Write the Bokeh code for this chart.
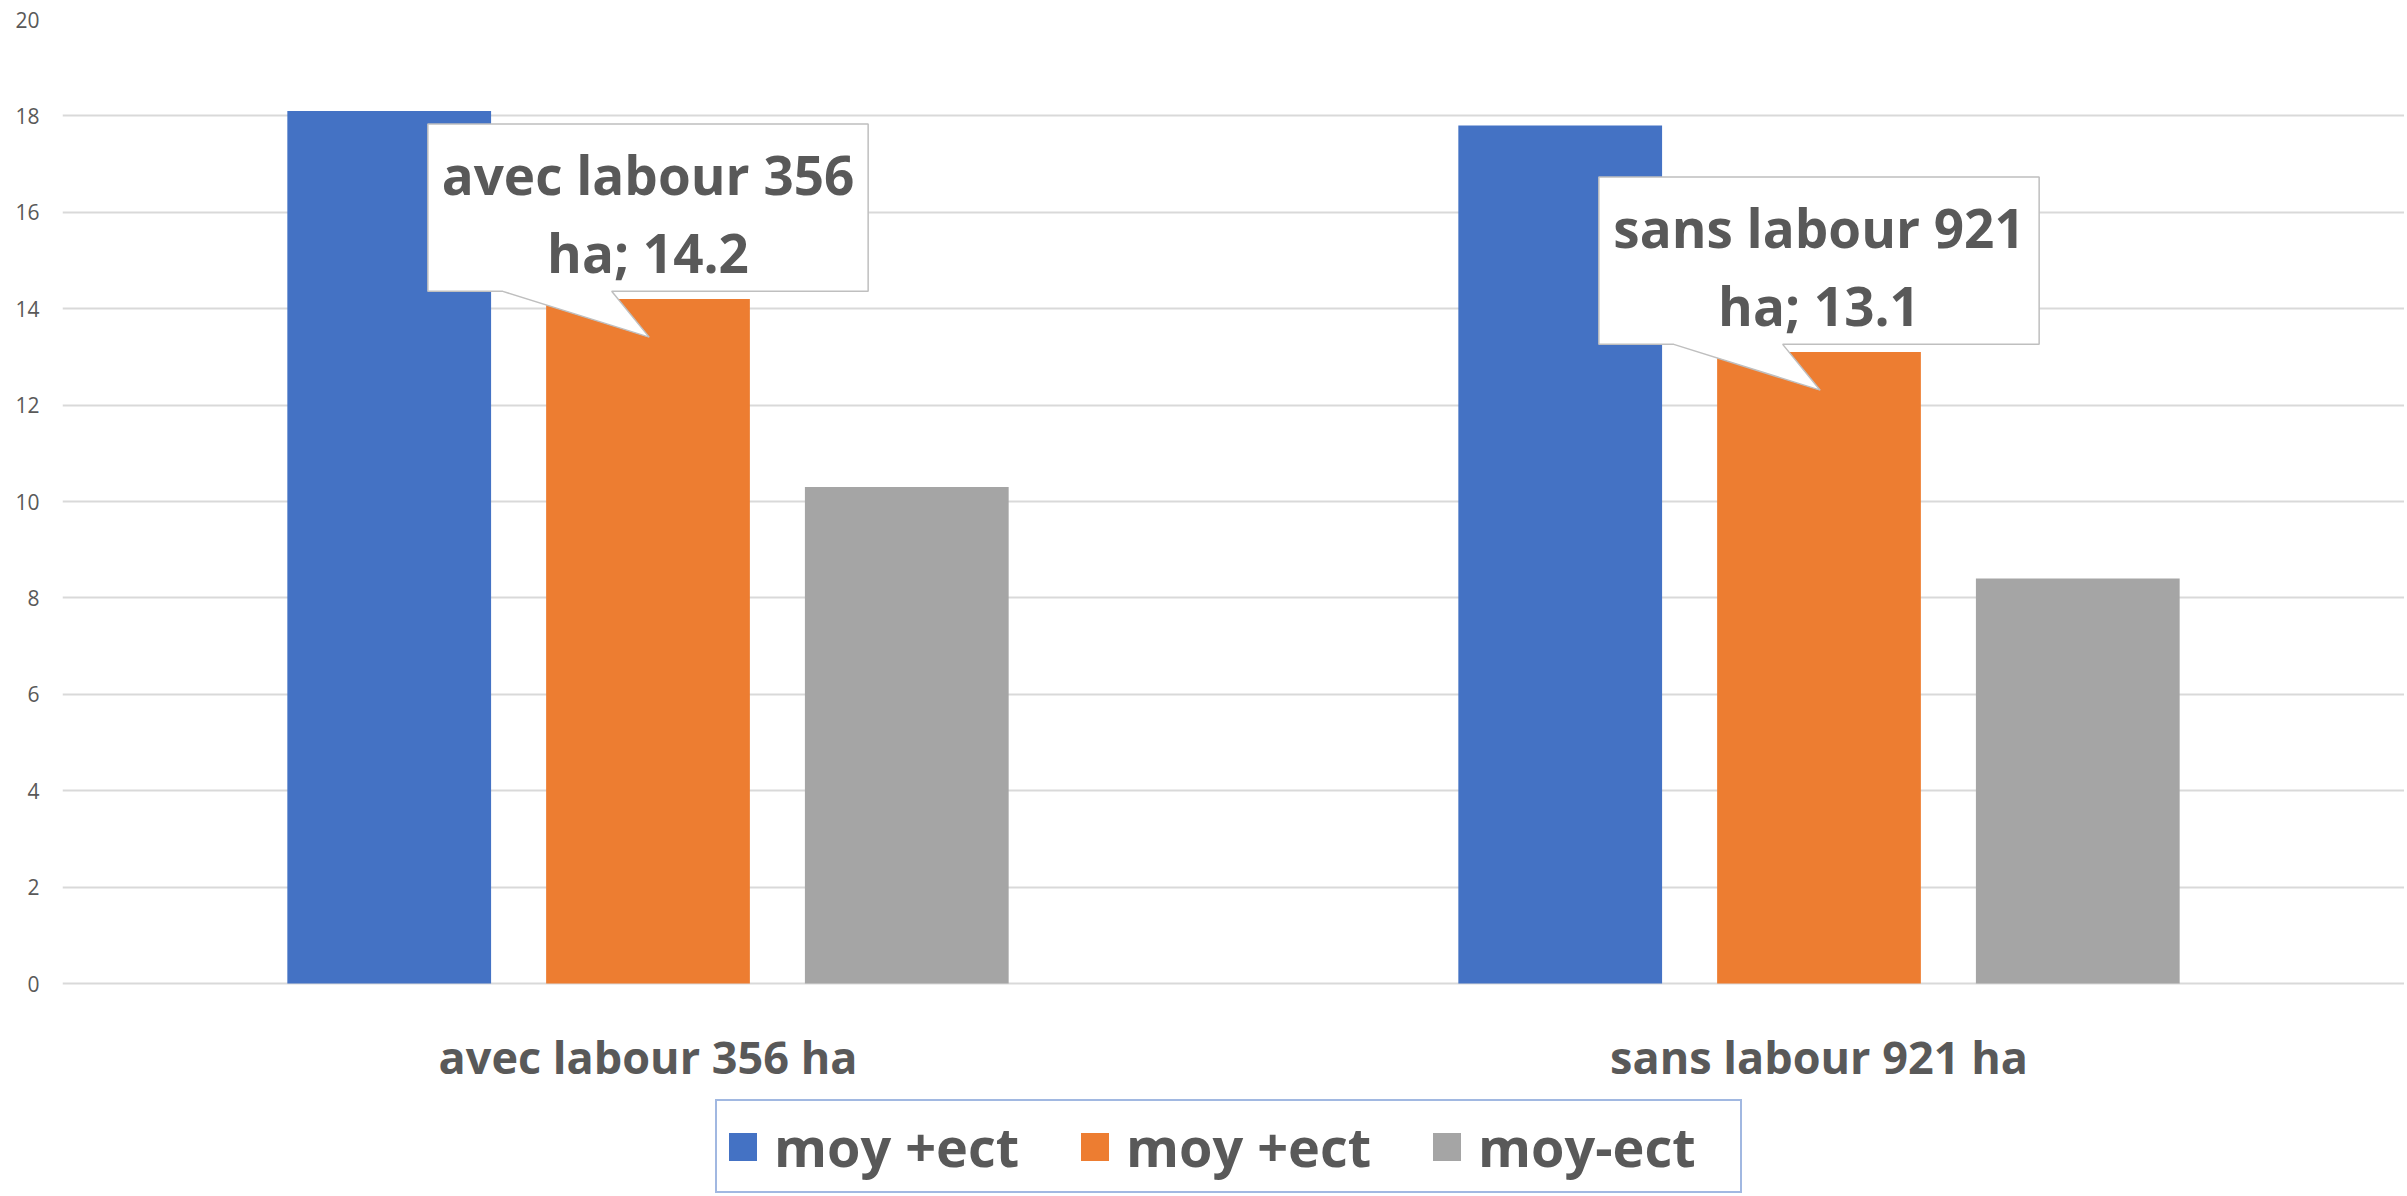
from bokeh.plotting import figure
from bokeh.models import FactorRange, Range1d, FixedTicker, Legend, LegendItem, ColumnDataSource
from bokeh.transform import dodge
from bokeh.core.properties import value
from bokeh.embed import file_html
from bokeh.resources import INLINE

# ---------------- data ----------------
categories = ["avec labour 356 ha", "sans labour 921 ha"]
series_names = ["moy +ect", "moy +ect", "moy-ect"]
blue_vals = [18.1, 17.8]
orange_vals = [14.2, 13.1]
grey_vals = [10.3, 8.4]
y_ticks = [0, 2, 4, 6, 8, 10, 12, 14, 16, 18, 20]
callout_line1 = ["avec labour 356", "sans labour 921"]
callout_line2 = ["ha; 14.2", "ha; 13.1"]

# ---------------- style ----------------
colors = ["#4472C4", "#ED7D31", "#A5A5A5"]
TEXT = "#595959"
FONT = "Open Sans"
BAR_W = 0.174
STEP = 0.221
Y_MAX = 20
PX_PER_UNIT = 48.2          # vertical scale of the plotting area
BELOW_PX = 212              # room kept under the zero line for labels + legend

src = ColumnDataSource(dict(cat=categories, s0=blue_vals, s1=orange_vals, s2=grey_vals))

p = figure(
    x_range=FactorRange(*categories, range_padding=0, factor_padding=0),
    y_range=Range1d(-BELOW_PX / PX_PER_UNIT, Y_MAX),
    width=2404, height=1195,
    output_backend="svg", toolbar_location=None,
    min_border_left=62, min_border_right=0, min_border_top=19, min_border_bottom=0,
)
p.outline_line_color = None
p.background_fill_color = "white"

renderers = []
for k, col in enumerate(["s0", "s1", "s2"]):
    r = p.vbar(x=dodge("cat", (k - 1) * STEP, range=p.x_range), top=col, width=BAR_W,
               source=src, fill_color=colors[k], line_color=None)
    renderers.append(r)

# callouts on the middle series, positioned from the data
centers = [i + 0.5 for i in range(len(categories))]
xs, ys = [], []
for c, v in zip(centers, orange_vals):
    top, bot, tip = v + 3.63, v + 0.16, v - 0.79
    xs.append([c - 0.188, c + 0.188, c + 0.188, c - 0.031, c + 0.001, c - 0.124, c - 0.188])
    ys.append([top, top, bot, bot, tip, bot, bot])
p.patches(xs=xs, ys=ys, fill_color="white", line_color="#BFBFBF", line_width=1.5)

p.text(x=centers, y=[v + 2.58 for v in orange_vals], text=callout_line1,
       text_align="center", text_baseline="alphabetic", text_font=value(FONT),
       text_font_style="bold", text_font_size="53px", text_color=TEXT)
p.text(x=centers, y=[v + 0.96 for v in orange_vals], text=callout_line2,
       text_align="center", text_baseline="alphabetic", text_font=value(FONT),
       text_font_style="bold", text_font_size="53px", text_color=TEXT)

# category labels under the zero line
p.text(x=categories, y=[0] * len(categories), text=categories, y_offset=73,
       text_align="center", text_baseline="alphabetic", text_font=value(FONT),
       text_font_style="bold", text_font_size="45px", text_color=TEXT)

# axes / grid
p.xaxis.visible = False
p.xgrid.grid_line_color = None
p.ygrid.grid_line_color = "#D9D9D9"
p.ygrid.grid_line_width = 2
p.yaxis.ticker = FixedTicker(ticks=y_ticks)
p.ygrid.ticker = FixedTicker(ticks=y_ticks)
ax = p.yaxis[0]
ax.axis_line_color = None
ax.major_tick_line_color = None
ax.minor_tick_line_color = None
ax.major_tick_out = 0
ax.major_tick_in = 0
ax.major_label_text_color = TEXT
ax.major_label_text_font = FONT
ax.major_label_text_font_size = "21px"
ax.major_label_standoff = 23

legend = Legend(
    items=[LegendItem(label=series_names[k], renderers=[renderers[k]]) for k in range(3)],
    orientation="horizontal", location=(653, 2),
    glyph_width=35, glyph_height=35, label_standoff=14, spacing=49, label_width=254,
    padding=8, margin=0,
    border_line_color="#4472C4", border_line_width=2,
    label_text_font=FONT, label_text_font_size="54px", label_text_font_style="bold",
    label_text_color=TEXT,
)
p.add_layout(legend, "center")

open("out.html", "w").write(file_html(p, INLINE))
